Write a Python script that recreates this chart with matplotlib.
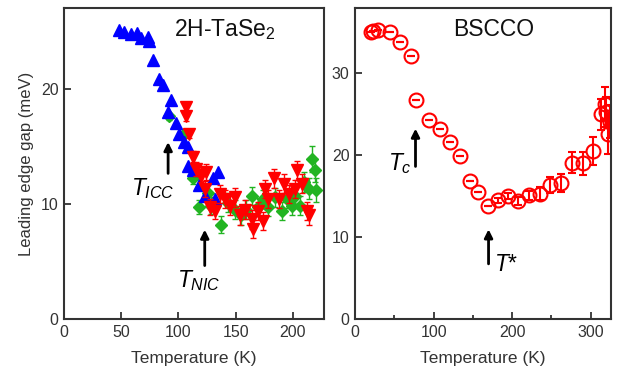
import numpy as np
import matplotlib
matplotlib.use('Agg')
import matplotlib.pyplot as plt

plt.rcParams['font.family'] = ['Liberation Sans', 'DejaVu Sans']
plt.rcParams['mathtext.fontset'] = 'custom'
plt.rcParams['mathtext.rm'] = 'Liberation Sans'
plt.rcParams['mathtext.it'] = 'Liberation Sans:italic'

# 2H-TaSe2 : blue triangles (no error bars)
tase_blue_T = [47.9, 52.4, 58.2, 64.0, 67.0, 73.5, 74.3, 78.2, 83.2, 86.1, 93.4, 90.5,
               97.9, 100.8, 105.2, 108.2, 108.2, 112.6, 134.5, 130.2, 118.4, 122.9, 131.7]
tase_blue_gap = [25.05, 24.9, 24.7, 24.85, 24.4, 24.5, 24.1, 22.5, 20.8, 20.3, 19.0, 18.0,
                 17.0, 16.1, 15.4, 14.9, 13.3, 12.9, 12.75, 12.2, 11.6, 10.7, 10.4]

# 2H-TaSe2 : green diamonds
tase_green_T = [92.0, 103.7, 112.6, 118.4, 125.7, 128.7, 137.5, 143.4, 149.2, 155.1, 159.5,
                164.0, 169.8, 174.3, 178.7, 184.6, 190.4, 194.8, 199.2, 202.2, 206.5, 209.5,
                214.0, 216.8, 219.2, 219.8]
tase_green_gap = [17.6, 15.95, 12.2, 9.7, 10.9, 9.85, 8.2, 10.1, 9.5, 9.0, 9.5,
                  10.7, 9.7, 10.4, 9.7, 10.55, 9.4, 10.4, 9.85, 10.7, 9.85, 11.9,
                  11.3, 13.9, 12.9, 11.2]
tase_green_err = [0.3, 0.3, 0.5, 0.6, 0.7, 0.7, 0.7, 0.8, 0.8, 0.8, 0.8,
                  0.8, 0.8, 0.8, 0.8, 0.8, 0.8, 0.8, 0.8, 0.8, 0.8, 0.9,
                  0.9, 1.1, 1.0, 1.0]

# 2H-TaSe2 : red down-triangles
tase_red_T = [106.7, 106.7, 109.6, 112.6, 115.5, 119.9, 124.3, 122.9, 127.2, 131.7, 136.1,
              140.5, 144.9, 149.2, 153.7, 158.1, 164.0, 165.4, 169.8, 174.3, 175.7, 178.7,
              183.1, 187.5, 191.9, 196.3, 202.2, 203.7, 208.0, 212.5, 214.0]
tase_red_gap = [18.4, 17.6, 16.1, 14.1, 13.0, 12.45, 12.75, 11.3, 9.7, 9.4, 10.85,
                10.4, 9.85, 10.55, 9.0, 9.5, 8.65, 7.8, 9.4, 8.5, 11.3, 10.4,
                12.2, 10.4, 11.75, 10.85, 11.3, 12.9, 11.75, 9.4, 9.0]
tase_red_err = [0.4, 0.4, 0.4, 0.5, 0.6, 0.6, 0.7, 0.7, 0.7, 0.7, 0.8,
                0.8, 0.8, 0.8, 0.8, 0.8, 0.8, 0.8, 0.8, 0.8, 0.8, 0.8,
                0.8, 0.8, 0.8, 0.8, 0.8, 0.8, 0.8, 0.8, 0.8]

# BSCCO : open red circles
bscco_T = [20.6, 22.7, 29.1, 44.0, 57.5, 71.6, 78.0, 94.0, 107.6, 120.4, 133.1, 145.9,
           156.5, 169.2, 182.0, 194.7, 207.4, 221.0, 235.0, 248.6, 262.6, 276.7, 290.2,
           303.0, 313.6, 317.8, 319.1, 322.0, 324.2]
bscco_gap = [35.0, 35.2, 35.3, 35.0, 33.8, 32.1, 26.7, 24.3, 23.2, 21.6, 19.9, 16.8,
             15.5, 13.8, 14.5, 15.05, 14.4, 15.1, 15.3, 16.4, 16.6, 19.1, 19.0,
             20.5, 25.0, 26.3, 25.3, 22.6, 24.1]
bscco_err = [0, 0, 0, 0, 0, 0, 0, 0, 0, 0, 0, 0,
             0, 0, 0.3, 0.4, 0.5, 0.6, 0.8, 1.0, 1.1, 1.3, 1.4,
             1.7, 1.9, 2.0, 1.8, 2.4, 2.0]

dark = '#333333'
fig = plt.figure(figsize=(6.17, 3.78), dpi=100)
ax1 = fig.add_axes([0.1037, 0.156, 0.421, 0.823])
ax2 = fig.add_axes([0.5754, 0.156, 0.415, 0.823])

# left panel
ax1.errorbar(tase_green_T, tase_green_gap, yerr=tase_green_err, fmt='D', color='#22b422',
             ms=6, capsize=2.5, elinewidth=1, zorder=2)
ax1.plot(tase_blue_T, tase_blue_gap, '^', color='#0000ff', ms=8, zorder=3)
ax1.errorbar(tase_red_T, tase_red_gap, yerr=tase_red_err, fmt='v', color='#ff0000',
             ms=8, capsize=2.5, elinewidth=1, zorder=4)
ax1.set_xlim(0, 227)
ax1.set_ylim(0, 27)
ax1.set_xticks([0, 50, 100, 150, 200])
ax1.set_yticks([0, 10, 20])
ax1.set_xlabel('Temperature (K)', fontsize=12.5, color=dark, labelpad=8)
ax1.set_ylabel('Leading edge gap (meV)', fontsize=12, color=dark, labelpad=5)
ax1.text(0.62, 0.93, '2H-TaSe$_2$', transform=ax1.transAxes, ha='center', va='center',
         fontsize=16.5, color='#111111')

ax1.annotate('', xy=(91, 15.6), xytext=(91, 12.4),
             arrowprops=dict(arrowstyle='-|>', color='black', lw=2, mutation_scale=12))
ax1.text(78, 11.3, '$T_{ICC}$', ha='center', va='center', fontsize=16.5)
ax1.annotate('', xy=(123, 8.0), xytext=(123, 4.4),
             arrowprops=dict(arrowstyle='-|>', color='black', lw=2, mutation_scale=12))
ax1.text(118, 3.3, '$T_{NIC}$', ha='center', va='center', fontsize=16.5)

# right panel
ax2.errorbar(bscco_T, bscco_gap, yerr=bscco_err, fmt='o', mfc='none', mec='#ff0000',
             color='#ff0000', ms=10, mew=1.5, capsize=3, elinewidth=1.5)
ax2.set_xlim(0, 326)
ax2.set_ylim(0, 38)
ax2.set_xticks([0, 100, 200, 300])
ax2.set_xticks([50, 150, 250], minor=True)
ax2.set_yticks([0, 10, 20, 30])
ax2.set_xlabel('Temperature (K)', fontsize=12.5, color=dark, labelpad=8)
ax2.text(0.54, 0.93, 'BSCCO', transform=ax2.transAxes, ha='center', va='center',
         fontsize=16.5, color='#111111')

ax2.annotate('', xy=(77, 23.6), xytext=(77, 18.3),
             arrowprops=dict(arrowstyle='-|>', color='black', lw=2, mutation_scale=12))
ax2.text(57, 19.0, '$T_c$', ha='center', va='center', fontsize=16.5)
ax2.annotate('', xy=(170, 11.3), xytext=(170, 6.4),
             arrowprops=dict(arrowstyle='-|>', color='black', lw=2, mutation_scale=12))
ax2.text(193, 6.7, '$T$*', ha='center', va='center', fontsize=16.5)

for ax in (ax1, ax2):
    for sp in ax.spines.values():
        sp.set_color(dark)
        sp.set_linewidth(1.5)
    ax.tick_params(which='major', direction='in', length=5, width=1.3, colors=dark,
                   labelsize=11.5, pad=4)
    ax.tick_params(which='minor', direction='in', length=3, width=1.3, colors=dark)

fig.savefig('out.png', dpi=100)
